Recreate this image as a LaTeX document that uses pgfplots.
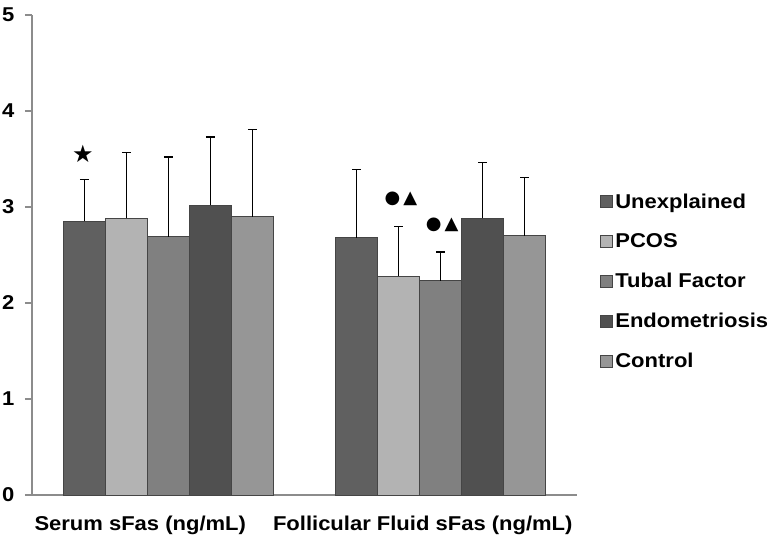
\documentclass[border=0pt]{standalone}
\usepackage{fontspec}
\setmainfont{Liberation Sans}[FakeStretch=1.1]
\newfontfamily\symfont{DejaVu Sans}
\usepackage{pgfplots}
\pgfplotsset{compat=1.18}
\definecolor{cUn}{HTML}{606060}
\definecolor{cPC}{HTML}{B3B3B3}
\definecolor{cTF}{HTML}{808080}
\definecolor{cEn}{HTML}{505050}
\definecolor{cCo}{HTML}{969696}
\definecolor{edge}{HTML}{454545}
\definecolor{axgray}{HTML}{8C8C8C}
\newcommand\lf{\fontsize{20bp}{23bp}\selectfont\bfseries}
\begin{document}
\begin{tikzpicture}
\useasboundingbox (-32bp,-41bp) rectangle (741bp,495bp);
\begin{axis}[
  at={(0,0)}, anchor=south west,
  scale only axis, width=545bp, height=480bp,
  xmin=0.5, xmax=2.5, ymin=0, ymax=5,
  ybar=0pt, bar width=42bp,
  axis x line*=bottom, axis y line*=left,
  axis line style={draw=axgray, line width=1.3bp},
  ytick={0,1,2,3,4,5},
  /pgf/number format/assume math mode=true,
  yticklabel style={font=\lf, xshift=-7bp},
  ytick style={draw=axgray, line width=1.3bp},
  major tick length=7bp, tick align=outside,
  xtick={1,2},
  xticklabels={Serum sFas (ng/mL), \hspace*{20bp}Follicular Fluid sFas (ng/mL)},
  xticklabel style={font=\lf, yshift=-10bp, xshift=-28bp},
  xtick style={draw=none},
  extra x ticks={0.5,1.5,2.5},
  extra x tick labels={},
  extra x tick style={tick style={draw=axgray, line width=1.3bp}, major tick length=5bp},
  error bars/y dir=plus, error bars/y explicit,
  error bars/error bar style={black, line width=1.3bp},
  error bars/error mark options={rotate=90, mark size=4.5bp, line width=1.3bp, black},
  every axis plot post/.append style={legend image code/.code={\draw[##1, line width=1bp] (0bp,-6bp) rectangle (12bp,6bp);}},
  legend style={at={(1.037,0.636)}, anchor=north west, draw=none, fill=none, font=\lf, row sep=20bp},
  legend cell align=left,
  clip=false,
]
\addplot[draw=edge, fill=cUn, line width=1bp] coordinates {(1,2.85) +- (0,0.44) (2,2.68) +- (0,0.71)};
\addplot[draw=edge, fill=cPC, line width=1bp] coordinates {(1,2.885) +- (0,0.685) (2,2.28) +- (0,0.52)};
\addplot[draw=edge, fill=cTF, line width=1bp] coordinates {(1,2.69) +- (0,0.83) (2,2.23) +- (0,0.30)};
\addplot[draw=edge, fill=cEn, line width=1bp] coordinates {(1,3.02) +- (0,0.71) (2,2.885) +- (0,0.575)};
\addplot[draw=edge, fill=cCo, line width=1bp] coordinates {(1,2.90) +- (0,0.91) (2,2.70) +- (0,0.61)};
\legend{Unexplained, PCOS, Tubal Factor, Endometriosis, Control}
\node[font=\symfont\fontsize{24bp}{24bp}\selectfont] at (axis cs:0.687,3.55) {★};
\node[font=\symfont\fontsize{18bp}{18bp}\selectfont] at (axis cs:1.854,3.08) {●\,▲};
\node[font=\symfont\fontsize{18bp}{18bp}\selectfont] at (axis cs:2.005,2.81) {●\,▲};
\end{axis}
\end{tikzpicture}
\end{document}
